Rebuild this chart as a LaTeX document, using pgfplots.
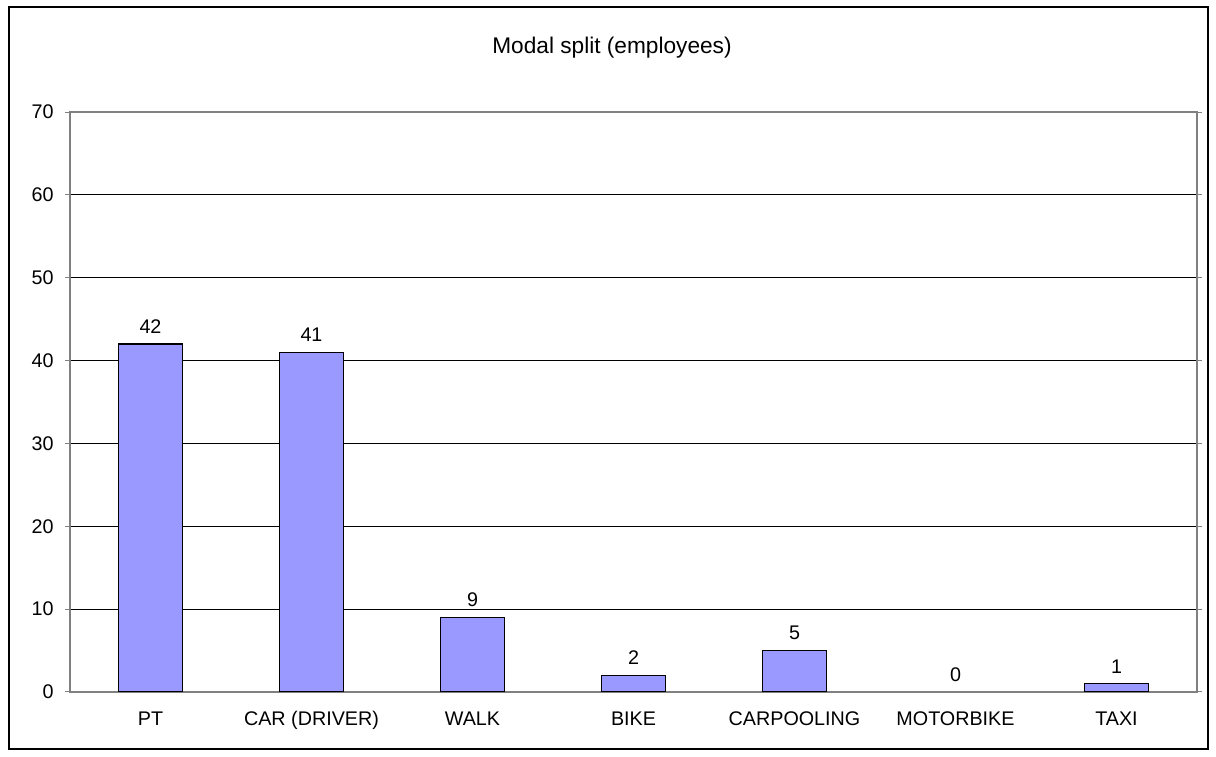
\documentclass[border=0pt]{standalone}
\usepackage{pgfplots}
\pgfplotsset{compat=1.18}
\usepackage{fontspec}
\setmainfont{Liberation Sans}
\definecolor{barblue}{HTML}{9999FF}
\definecolor{axgray}{HTML}{808080}
\begin{document}
\begin{tikzpicture}[x=0.75pt,y=0.75pt]
\useasboundingbox (0,0) rectangle (1216,756);
\draw[black,line width=1.5pt] (9,7) rectangle (1208,749);
\node[font=\fontsize{17pt}{20pt}\selectfont] at (612,708) {Modal split (employees)};
\begin{axis}[
  at={(70*0.75pt,64*0.75pt)}, anchor=south west,
  scale only axis,
  width=1127*0.75pt, height=580*0.75pt,
  xmin=-0.5, xmax=6.5, ymin=0, ymax=70,
  ytick={0,10,...,70},
  xtick={0,...,6},
  xticklabels={PT,CAR (DRIVER),WALK,BIKE,CARPOOLING,MOTORBIKE,TAXI},
  extra x ticks={-0.5,0.5,...,6.5},
  extra x tick labels={},
  extra x tick style={grid=none, major tick length=5*0.75pt, tick style={axgray, line width=0.75pt}},
  x tick style={draw=none},
  major tick length=5*0.75pt,
  tick align=outside,
  y tick style={axgray, line width=0.75pt},
  ymajorgrids,
  major grid style={black, line width=0.75pt},
  axis line style={axgray, line width=1pt},
  ticklabel style={font=\fontsize{14.8pt}{17pt}\selectfont},
  /pgf/number format/assume math mode=true,
  xticklabel style={text height=0.75em, text depth=0.25em, yshift=-10pt},
  yticklabel style={xshift=-5pt},
  nodes near coords,
  every node near coord/.append style={font=\fontsize{14.8pt}{17pt}\selectfont, yshift=4pt},
]
\addplot[ybar, bar shift=0pt, bar width=64*0.75pt, fill=barblue, draw=black, line width=1pt]
  coordinates {(0,42) (1,41) (2,9) (3,2) (4,5) (6,1)};
\addplot[ybar, bar shift=0pt, bar width=64*0.75pt, fill=none, draw=none]
  coordinates {(5,0)};
\end{axis}
\end{tikzpicture}
\end{document}
